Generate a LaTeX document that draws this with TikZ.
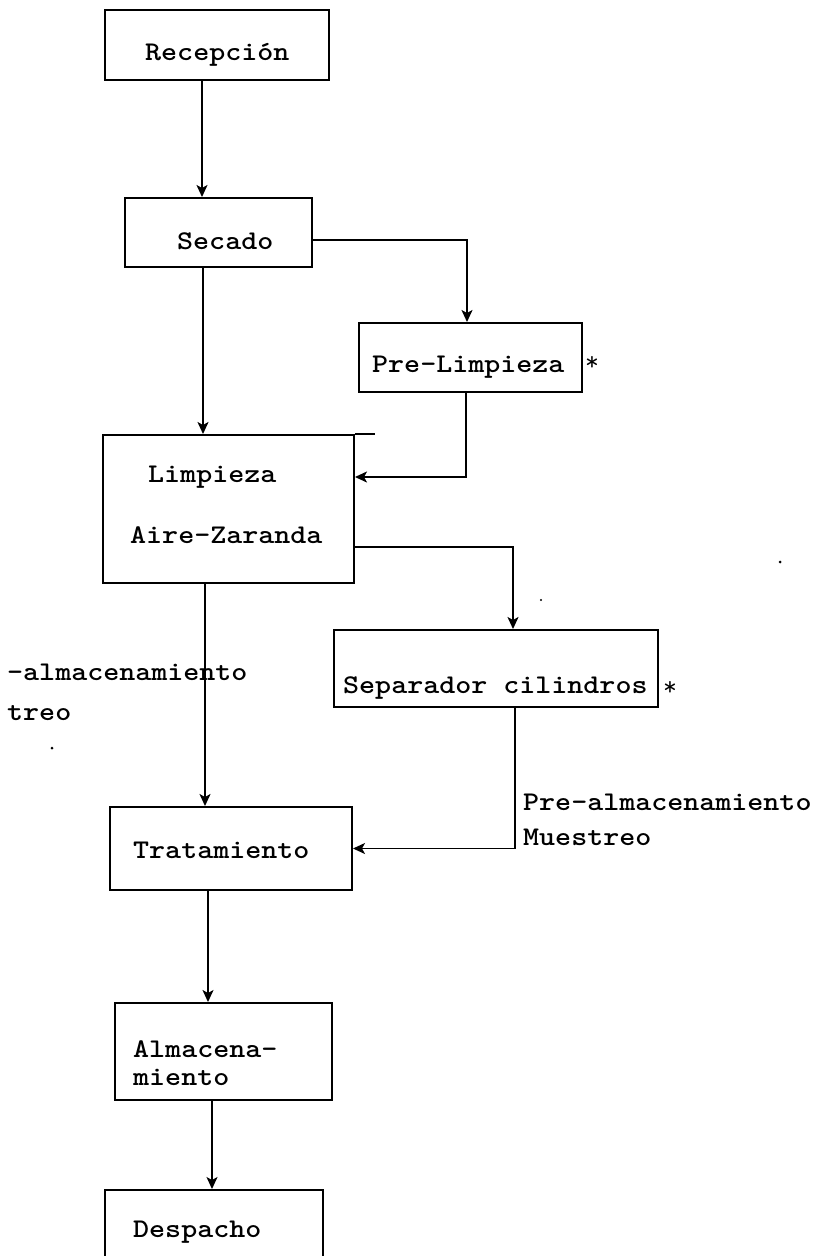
\documentclass[tikz,border=0pt]{standalone}
\usepackage{fontspec}
\usepackage{graphicx}
\usetikzlibrary{arrows.meta}
% typewriter-style lettering, slightly widened
\newcommand{\typw}[1]{\scalebox{1.13}[1]{\fontsize{27}{32}\selectfont\ttfamily\bfseries #1}}
\newcommand{\typstar}{\fontsize{27}{32}\selectfont\ttfamily *}
\tikzset{
  stagebox/.style={draw, line width=2pt, rectangle, inner sep=0pt},
  flow/.style={line width=1.6pt, -{Stealth[length=12pt,width=11pt,inset=3pt]}},
  lbl/.style={anchor=base west, inner sep=0pt},
  speck/.style={fill=black},
}
\begin{document}
\begin{tikzpicture}[x=1pt,y=-1pt]
\clip (0,0) rectangle (819,1256);

% process stages
\node[stagebox, minimum width=224pt, minimum height=70pt] (rec) at (217,45) {};
\node[stagebox, minimum width=187pt, minimum height=69pt] (sec) at (218.5,232.5) {};
\node[stagebox, minimum width=223pt, minimum height=69pt] (pre) at (470.5,357.5) {};
\node[stagebox, minimum width=251pt, minimum height=148pt] (lim) at (228.5,509) {};
\node[stagebox, minimum width=324pt, minimum height=77pt] (sep) at (496,668.5) {};
\node[stagebox, minimum width=242pt, minimum height=83pt] (tra) at (231,848.5) {};
\node[stagebox, minimum width=217pt, minimum height=97pt] (alm) at (223.5,1051.5) {};
\node[stagebox, minimum width=218pt, minimum height=110pt] (des) at (214,1245) {};
\draw[line width=2pt] (lim.north east) -- ++(20,0);

% stage names
\node[lbl] (trec) at (145,60) {\typw{Recepción}};
\node[lbl] (tsec) at (177,249) {\typw{Secado}};
\node[lbl] (tpre) at (372,372) {\typw{Pre-Limpieza}};
\node[lbl] (apre) at (585,370) {\typstar};
\node[lbl] (tlim1) at (148,482) {\typw{Limpieza}};
\node[lbl] (tlim2) at (130,543) {\typw{Aire-Zaranda}};
\node[lbl] (tsep) at (343,693) {\typw{Separador cilindros}};
\node[lbl] (asep) at (663,695) {\typstar};
\node[lbl] (ttra) at (133,858) {\typw{Tratamiento}};
\node[lbl] (talm1) at (133,1057) {\typw{Almacena-}};
\node[lbl] (talm2) at (133,1085) {\typw{miento}};
\node[lbl] (tdes) at (133,1237) {\typw{Despacho}};

% side notes
\node[lbl] (nl1) at (7,680) {\typw{-almacenamiento}};
\node[lbl] (nl2) at (7,720) {\typw{treo}};
\node[lbl] (nr1) at (523,810) {\typw{Pre-almacenamiento}};
\node[lbl] (nr2) at (523,845) {\typw{Muestreo}};

% flow connectors
\draw[flow] ([xshift=-15pt]rec.south) -- ([xshift=-15pt]rec.south |- sec.north);
\draw[flow] ([xshift=-15.5pt]sec.south) -- ([xshift=-15.5pt]sec.south |- lim.north);
\draw[flow] ([yshift=-7.5pt]sec.east) -| ([xshift=-3.5pt]pre.north);
\draw[flow] ([xshift=-4.5pt]pre.south) |- ([yshift=32pt]lim.east);
\draw[flow] ([yshift=-38pt]lim.east) -| ([xshift=17pt]sep.north);
\draw[flow] ([xshift=-23.5pt]lim.south) -- ([xshift=-23.5pt]lim.south |- tra.north);
\draw[flow] ([xshift=19pt]sep.south) |- (tra.east);
\draw[flow] ([xshift=-23pt]tra.south) -- ([xshift=-23pt]tra.south |- alm.north);
\draw[flow] ([xshift=-11.5pt]alm.south) -- ([xshift=-11.5pt]alm.south |- des.north);

% stray specks
\fill[speck] (780,562) circle (1.5);
\fill[speck] (541,600) circle (1.2);
\fill[speck] (52,748) circle (1.5);
\end{tikzpicture}
\end{document}
